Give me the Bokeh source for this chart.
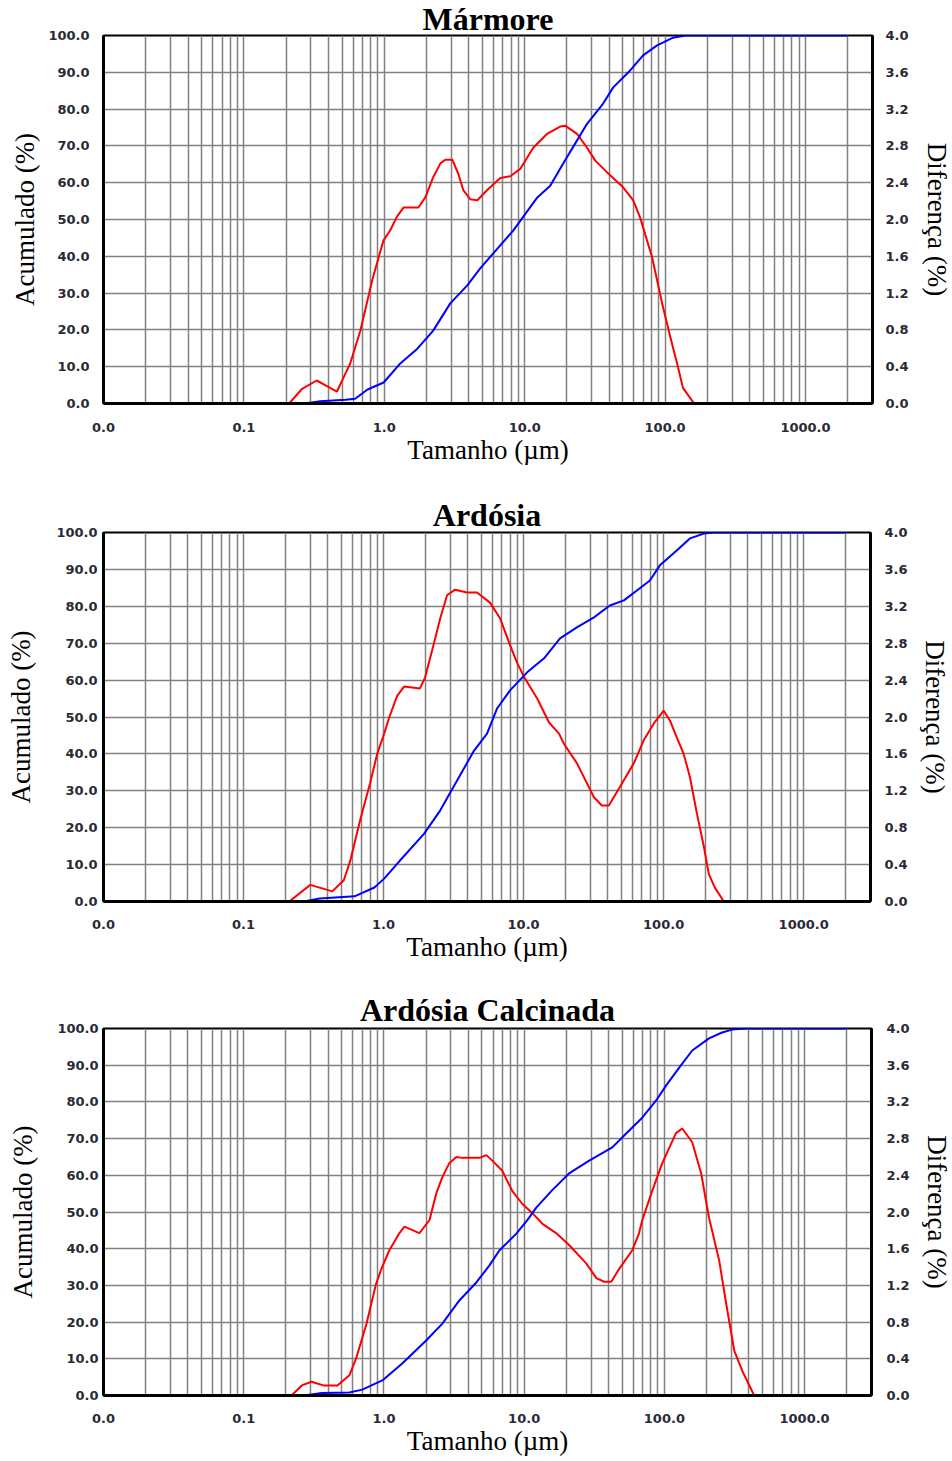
from bokeh.plotting import figure
from bokeh.models import Range1d, LinearAxis, FixedTicker, PrintfTickFormatter
from bokeh.layouts import column
from bokeh.embed import file_html
from bokeh.resources import INLINE

# ---------------- data ----------------
X_TICKS = [0.01, 0.1, 1, 10, 100, 1000]
X_TICK_LABELS = ["0.0", "0.1", "1.0", "10.0", "100.0", "1000.0"]
X_GRID = [0.02, 0.03, 0.04, 0.05, 0.06, 0.07, 0.08, 0.09,
          0.1, 0.2, 0.3, 0.4, 0.5, 0.6, 0.7, 0.8, 0.9,
          1, 2, 3, 4, 5, 6, 7, 8, 9,
          10, 20, 30, 40, 50, 60, 70, 80, 90,
          100, 200, 300, 400, 500, 600, 700, 800, 900,
          1000, 2000]
LEFT_TICKS = [0, 10, 20, 30, 40, 50, 60, 70, 80, 90, 100]
RIGHT_TICKS = [0.0, 0.4, 0.8, 1.2, 1.6, 2.0, 2.4, 2.8, 3.2, 3.6, 4.0]

titles = ["Mármore", "Ardósia", "Ardósia Calcinada"]

# Mármore
marmore_cum_x = [0.02, 0.27, 0.35, 0.53, 0.62, 0.76, 0.99, 1.30, 1.72, 2.23, 2.95, 3.90, 4.82,
                 5.97, 8.28, 12.3, 15.2, 18.8, 23.6, 27.8, 36.2, 42.7, 56.4, 69.7, 87.7, 114, 139, 2000]
marmore_cum = [0, 0, 0.6, 1.0, 1.3, 3.8, 5.7, 10.9, 14.9, 19.8, 27.2, 32.1, 36.7,
               40.8, 47.0, 56.0, 59.2, 65.2, 71.5, 76.0, 81.5, 85.9, 90.5, 94.6, 97.3, 99.4, 100, 100]
marmore_dif_x = [0.02, 0.21, 0.26, 0.33, 0.39, 0.46, 0.57, 0.675, 0.82, 0.985, 1.10, 1.24, 1.37,
                 1.75, 1.96, 2.23, 2.51, 2.72, 3.05, 3.36, 3.65, 4.10, 4.60, 5.41, 6.70, 7.89,
                 9.29, 11.5, 14.4, 17.9, 19.4, 23.6, 27.8, 31.8, 40.6, 50.2, 59.2, 66.4, 80.8,
                 95.2, 109, 122, 134, 161, 2000]
marmore_dif = [0, 0, 0.16, 0.25, 0.19, 0.13, 0.43, 0.79, 1.34, 1.77, 1.88, 2.04, 2.13,
               2.13, 2.24, 2.46, 2.61, 2.65, 2.65, 2.50, 2.32, 2.22, 2.21, 2.32, 2.45, 2.47,
               2.55, 2.78, 2.93, 3.01, 3.02, 2.93, 2.78, 2.64, 2.48, 2.35, 2.21, 2.02, 1.59,
               1.09, 0.72, 0.43, 0.17, 0, 0]

# Ardósia
ardosia_cum_x = [0.02, 0.27, 0.35, 0.62, 0.86, 1.01, 1.31, 1.95, 2.54, 3.35, 4.43, 5.48, 6.46,
                 8.0, 10.6, 14.0, 18.2, 24.0, 31.8, 41.3, 52.0, 64.4, 79.8, 94, 124, 154, 194, 228, 2000]
ardosia_cum = [0, 0, 0.8, 1.4, 3.8, 6.2, 11.1, 18.4, 24.7, 32.8, 40.9, 45.5, 52.3,
               57.2, 62.1, 65.9, 71.3, 74.3, 77.0, 80.2, 81.6, 84.3, 87.0, 91.1, 95.1, 98.4, 99.7, 100, 100]
ardosia_dif_x = [0.02, 0.212, 0.30, 0.43, 0.52, 0.578, 0.68, 0.80, 0.90, 1.01, 1.10, 1.25, 1.40,
                 1.82, 1.98, 2.30, 2.54, 2.84, 3.24, 3.95, 4.65, 5.75, 6.79, 8.0, 8.97, 10.2,
                 12.5, 15.2, 17.9, 19.4, 24.0, 31.8, 36.2, 40.6, 48.7, 61.3, 72.2, 85.1, 100,
                 111, 124, 139, 154, 173, 194, 210, 232, 269, 2000]
ardosia_dif = [0, 0, 0.18, 0.11, 0.23, 0.44, 0.88, 1.28, 1.60, 1.82, 2.00, 2.23, 2.33,
               2.31, 2.43, 2.81, 3.07, 3.32, 3.38, 3.35, 3.35, 3.24, 3.07, 2.78, 2.59, 2.42,
               2.20, 1.94, 1.82, 1.71, 1.50, 1.13, 1.04, 1.04, 1.24, 1.50, 1.75, 1.93, 2.07,
               1.96, 1.78, 1.60, 1.35, 0.95, 0.59, 0.30, 0.15, 0, 0]

# Ardósia Calcinada
calcinada_cum_x = [0.02, 0.27, 0.36, 0.567, 0.70, 0.975, 1.35, 2.0, 2.61, 3.45, 4.56, 5.64, 6.65,
                   8.8, 10.5, 12.2, 15.8, 20.9, 29.1, 42.5, 53.4, 69.5, 87.4, 103, 128, 158,
                   208, 258, 304, 383, 2000]
calcinada_cum = [0, 0, 0.7, 0.8, 1.6, 4.1, 8.7, 15.0, 19.6, 25.9, 30.8, 35.4, 39.5,
                 44.1, 47.7, 51.2, 55.9, 60.5, 64.0, 67.6, 71.4, 75.7, 80.4, 84.5, 89.4, 94.0,
                 97.3, 98.9, 99.7, 100, 100]
calcinada_dif_x = [0.02, 0.219, 0.26, 0.304, 0.37, 0.466, 0.567, 0.635, 0.75, 0.88, 0.97, 1.09,
                   1.29, 1.40, 1.79, 2.11, 2.36, 2.61, 2.92, 3.28, 3.6, 4.8, 5.37, 5.93, 6.98,
                   8.22, 9.68, 11.4, 13.5, 16.9, 20.9, 27.7, 32.7, 37.2, 41.8, 47.6, 58.9, 66,
                   69.5, 81.9, 96.4, 121, 134, 158, 183, 208, 246, 276, 315, 359, 437, 2000]
calcinada_dif = [0, 0, 0.11, 0.15, 0.11, 0.11, 0.22, 0.41, 0.78, 1.22, 1.40, 1.58,
                 1.77, 1.84, 1.77, 1.91, 2.20, 2.38, 2.53, 2.60, 2.59, 2.59, 2.62, 2.56, 2.45,
                 2.23, 2.09, 1.99, 1.87, 1.77, 1.64, 1.44, 1.28, 1.24, 1.24, 1.38, 1.58, 1.77,
                 1.91, 2.23, 2.53, 2.86, 2.91, 2.76, 2.42, 1.94, 1.47, 1.00, 0.49, 0.27, 0, 0]

# ---------------- styling / layout ----------------
TICK_FONT = "DejaVu Sans"
SERIF = "Liberation Serif"
GRID_COLOR = "#808080"


def make_panel(title, cum_x, cum_y, dif_x, dif_y, lay):
    p = figure(x_axis_type="log", x_range=Range1d(0.01, 3000), y_range=Range1d(0, 100),
               frame_width=lay["fw"], frame_height=lay["fh"],
               min_border_left=lay["left"], min_border_right=lay["right"],
               min_border_top=lay["top"], min_border_bottom=lay["bottom"],
               toolbar_location=None, output_backend="svg",
               background_fill_color="white", border_fill_color="white")
    p.extra_y_ranges = {"dif": Range1d(0, 4)}

    p.title.text = title
    p.title.text_font = SERIF
    p.title.text_font_size = "32px"
    p.title.text_font_style = "bold"
    p.title.text_color = "black"
    p.title.align = "center"
    p.title.standoff = lay["ts"]
    p.title.offset = lay["to"]

    # grids
    p.xgrid.ticker = FixedTicker(ticks=X_GRID)
    p.ygrid.ticker = FixedTicker(ticks=LEFT_TICKS)
    for g in (p.xgrid[0], p.ygrid[0]):
        g.grid_line_color = GRID_COLOR
        g.grid_line_width = 1.5

    p.outline_line_color = "black"
    p.outline_line_width = 2
    p.outline_line_alpha = 1

    right = LinearAxis(y_range_name="dif")
    p.add_layout(right, "right")

    xa = p.xaxis[0]
    ya = p.yaxis[0]
    xa.ticker = FixedTicker(ticks=X_TICKS)
    xa.formatter = PrintfTickFormatter(format="%.1f")
    xa.major_label_overrides = dict(zip(X_TICKS, X_TICK_LABELS))
    ya.ticker = FixedTicker(ticks=LEFT_TICKS)
    ya.formatter = PrintfTickFormatter(format="%.1f")
    right.ticker = FixedTicker(ticks=RIGHT_TICKS)
    right.formatter = PrintfTickFormatter(format="%.1f")

    xa.axis_label = "Tamanho (µm)"
    ya.axis_label = "Acumulado (%)"
    right.axis_label = "Diferença (%)"

    for ax in (xa, ya, right):
        ax.axis_line_color = "black"
        ax.axis_line_width = 3
        ax.major_tick_line_color = None
        ax.minor_tick_line_color = None
        ax.major_tick_out = 0
        ax.major_tick_in = 0
        ax.minor_tick_out = 0
        ax.minor_tick_in = 0
        ax.major_label_text_font = TICK_FONT
        ax.major_label_text_font_size = "13px"
        ax.major_label_text_font_style = "bold"
        ax.major_label_text_color = "#2a2a36"
        ax.axis_label_text_font = SERIF
        ax.axis_label_text_font_size = "27px"
        ax.axis_label_text_font_style = "normal"
        ax.axis_label_text_color = "black"

    xa.major_label_standoff = lay["xs"]
    xa.axis_label_standoff = lay["xls"]
    ya.major_label_standoff = lay["ys"]
    ya.axis_label_standoff = lay["yls"]
    right.major_label_standoff = lay["rs"]
    right.axis_label_standoff = lay["rls"]

    # curves: differential (red, right axis) then cumulative (blue, left axis)
    p.line(dif_x, dif_y, y_range_name="dif", line_color="#ff0000", line_width=2)
    p.line(cum_x, cum_y, line_color="#0000ff", line_width=2)
    return p


layouts = [
    dict(left=103, top=35, fw=769, fh=368, right=80, bottom=89, xs=19, xls=0,
         ys=14, yls=5, rs=13, rls=10, ts=-3, to=0),
    dict(left=96, top=40, fw=767, fh=369, right=89, bottom=87, xs=18, xls=0,
         ys=6, yls=17, rs=14, rls=9, ts=0, to=10),
    dict(left=94, top=40, fw=768, fh=367, right=90, bottom=65, xs=18, xls=0,
         ys=5, yls=16, rs=15, rls=9, ts=1, to=9),
]

p1 = make_panel(titles[0], marmore_cum_x, marmore_cum, marmore_dif_x, marmore_dif, layouts[0])
p2 = make_panel(titles[1], ardosia_cum_x, ardosia_cum, ardosia_dif_x, ardosia_dif, layouts[1])
p3 = make_panel(titles[2], calcinada_cum_x, calcinada_cum, calcinada_dif_x, calcinada_dif, layouts[2])

page = column(p1, p2, p3, spacing=0)
open("out.html", "w").write(file_html(page, INLINE))
